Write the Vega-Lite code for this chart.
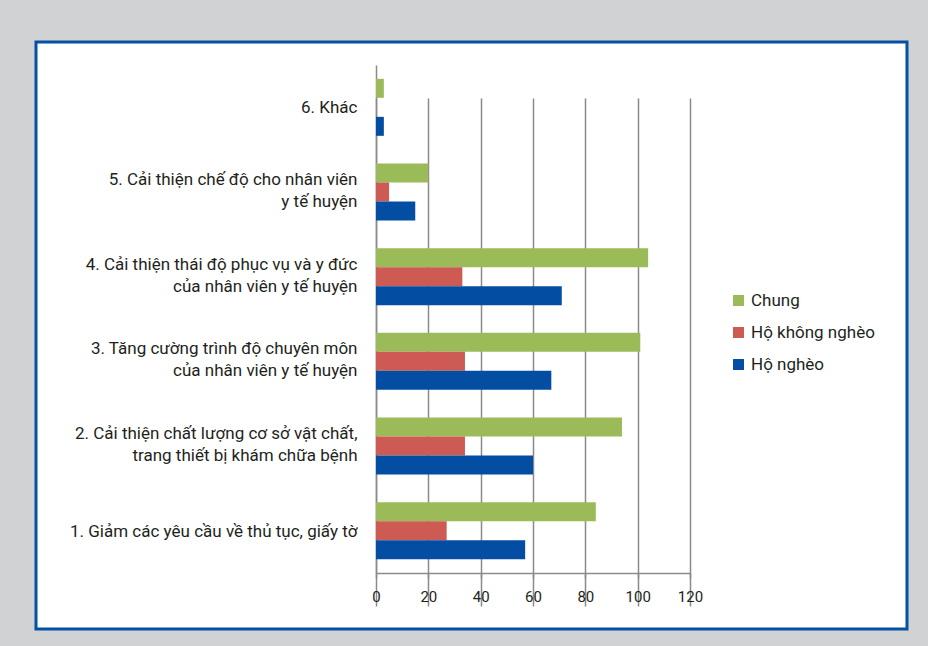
{
  "$schema": "https://vega.github.io/schema/vega-lite/v6.json",
  "width": 871,
  "height": 587,
  "autosize": {"type": "none"},
  "padding": {"left": 36, "top": 42, "right": 21, "bottom": 17},
  "background": "#d1d2d4",
  "config": {
    "font": "Roboto",
    "view": {"fill": "#ffffff", "stroke": "#0450a3", "strokeWidth": 3}
  },
  "data": {
    "values": [
      {"cat": "1. Giảm các yêu cầu về thủ tục, giấy tờ", "group": "Chung", "value": 84},
      {"cat": "1. Giảm các yêu cầu về thủ tục, giấy tờ", "group": "Hộ không nghèo", "value": 27},
      {"cat": "1. Giảm các yêu cầu về thủ tục, giấy tờ", "group": "Hộ nghèo", "value": 57},
      {"cat": "2. Cải thiện chất lượng cơ sở vật chất,|trang thiết bị khám chữa bệnh", "group": "Chung", "value": 94},
      {"cat": "2. Cải thiện chất lượng cơ sở vật chất,|trang thiết bị khám chữa bệnh", "group": "Hộ không nghèo", "value": 34},
      {"cat": "2. Cải thiện chất lượng cơ sở vật chất,|trang thiết bị khám chữa bệnh", "group": "Hộ nghèo", "value": 60},
      {"cat": "3. Tăng cường trình độ chuyên môn|của nhân viên y tế huyện", "group": "Chung", "value": 101},
      {"cat": "3. Tăng cường trình độ chuyên môn|của nhân viên y tế huyện", "group": "Hộ không nghèo", "value": 34},
      {"cat": "3. Tăng cường trình độ chuyên môn|của nhân viên y tế huyện", "group": "Hộ nghèo", "value": 67},
      {"cat": "4. Cải thiện thái độ phục vụ và y đức|của nhân viên y tế huyện", "group": "Chung", "value": 104},
      {"cat": "4. Cải thiện thái độ phục vụ và y đức|của nhân viên y tế huyện", "group": "Hộ không nghèo", "value": 33},
      {"cat": "4. Cải thiện thái độ phục vụ và y đức|của nhân viên y tế huyện", "group": "Hộ nghèo", "value": 71},
      {"cat": "5. Cải thiện chế độ cho nhân viên |y tế huyện", "group": "Chung", "value": 20},
      {"cat": "5. Cải thiện chế độ cho nhân viên |y tế huyện", "group": "Hộ không nghèo", "value": 5},
      {"cat": "5. Cải thiện chế độ cho nhân viên |y tế huyện", "group": "Hộ nghèo", "value": 15},
      {"cat": "6. Khác", "group": "Chung", "value": 3},
      {"cat": "6. Khác", "group": "Hộ không nghèo", "value": 0},
      {"cat": "6. Khác", "group": "Hộ nghèo", "value": 3}
    ]
  },
  "mark": {"type": "bar"},
  "encoding": {
    "y": {
      "field": "cat",
      "type": "nominal",
      "sort": [
        "6. Khác",
        "5. Cải thiện chế độ cho nhân viên |y tế huyện",
        "4. Cải thiện thái độ phục vụ và y đức|của nhân viên y tế huyện",
        "3. Tăng cường trình độ chuyên môn|của nhân viên y tế huyện",
        "2. Cải thiện chất lượng cơ sở vật chất,|trang thiết bị khám chữa bệnh",
        "1. Giảm các yêu cầu về thủ tục, giấy tờ"
      ],
      "scale": {"range": [23, 531], "paddingInner": 0.327, "paddingOuter": 0.1635},
      "axis": {
        "title": null,
        "offset": -340,
        "ticks": false,
        "tickSize": 0,
        "labelPadding": 19,
        "labelExpr": "split(datum.label, '|')",
        "labelOffset": {"condition": {"test": "indexof(datum.value, '|') >= 0", "value": -12}, "value": 1},
        "labelFontSize": 17,
        "labelColor": "#231f20",
        "labelLineHeight": 22,
        "labelLimit": 400,
        "domainColor": "#8a8a8a",
        "domainWidth": 1.5,
        "grid": false
      }
    },
    "yOffset": {
      "field": "group",
      "type": "nominal",
      "sort": ["Chung", "Hộ không nghèo", "Hộ nghèo"],
      "scale": {"paddingInner": 0, "paddingOuter": 0}
    },
    "x": {
      "field": "value",
      "type": "quantitative",
      "scale": {"domain": [0, 120], "range": [340, 654], "nice": false},
      "axis": {
        "title": null,
        "offset": -56,
        "values": [0, 20, 40, 60, 80, 100, 120],
        "labelFlush": false,
        "labelFontSize": 15,
        "labelColor": "#231f20",
        "labelPadding": 11,
        "tickSize": 5,
        "tickColor": "#8a8a8a",
        "tickWidth": 1.5,
        "domainColor": "#8a8a8a",
        "domainWidth": 1.5,
        "grid": true,
        "gridColor": "#8a8a8a",
        "gridWidth": 1.5,
        "gridOpacity": 1
      }
    },
    "color": {
      "field": "group",
      "type": "nominal",
      "scale": {
        "domain": ["Chung", "Hộ không nghèo", "Hộ nghèo"],
        "range": ["#9bbb59", "#cd5a53", "#034ea2"]
      },
      "legend": {
        "title": null,
        "orient": "none",
        "legendX": 694,
        "legendY": 250,
        "symbolType": "square",
        "symbolSize": 120,
        "symbolStrokeWidth": 0,
        "labelFontSize": 17,
        "labelColor": "#231f20",
        "labelOffset": 4,
        "rowPadding": 14
      }
    }
  }
}
